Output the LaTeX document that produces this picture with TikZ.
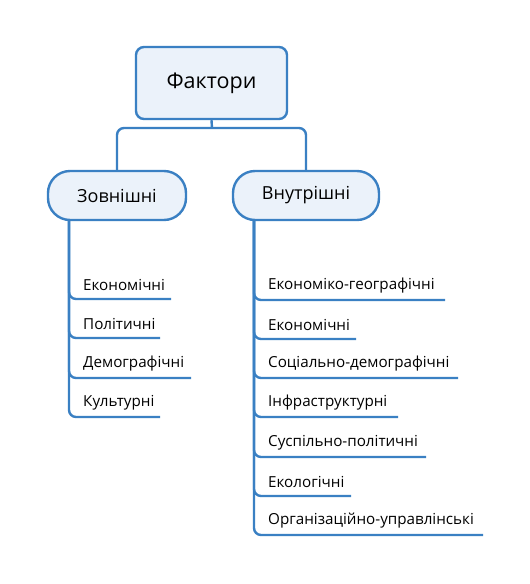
\documentclass[tikz,border=0pt]{standalone}
\usepackage{fontspec}
\setmainfont{Open Sans}
\definecolor{lineblue}{HTML}{3A80C3}
\definecolor{boxfill}{HTML}{EBF2FA}
\begin{document}
\begin{tikzpicture}[x=1pt,y=-1pt,
  conn/.style={draw=lineblue,line width=2.4pt,rounded corners=7pt},
  itemtext/.style={anchor=west,inner sep=0pt,font=\fontsize{15.2}{17}\selectfont},
  pill/.style={draw=lineblue,fill=boxfill,line width=2.4pt,rounded corners=22pt,minimum height=49pt,inner sep=0pt,font=\fontsize{18}{21}\selectfont},
]
\useasboundingbox (0,0) rectangle (530,584);
% main box
\node[draw=lineblue,fill=boxfill,line width=2.4pt,rounded corners=8pt,minimum width=151pt,minimum height=72pt,inner sep=0pt,font=\fontsize{21.5}{24}\selectfont] (top) at (211.5,83) {Фактори};
% second level
\node[pill,minimum width=138pt] (ext) at (117,195.5) {Зовнішні};
\node[pill,minimum width=146pt] (int) at (306,195.5) {Внутрішні};
\coordinate (j) at (212,128);
\draw[conn] (top.south) -- (j);
\draw[conn] (ext.north) |- (j) -| (int.north);
% left items
\foreach \t/\y/\e [count=\i] in {Економічні/299/171,Політичні/338/160,Демографічні/378/191,Культурні/417/160}{
  \node[itemtext] (l\i) at (83,\y-14.5) {\t};
  \coordinate (le\i) at (\e,\y);
  \draw[conn] (ext.south -| 69,0) |- (le\i);
}
% right items
\foreach \t/\y/\e [count=\i] in {Економіко-географічні/300/445,Економічні/339/356,Соціально-демографічні/378/458,Інфраструктурні/417/398,Суспільно-політичні/457/426,Екологічні/496/351,Організаційно-управлінські/535/483}{
  \node[itemtext] (r\i) at (268,\y-14.5) {\t};
  \coordinate (re\i) at (\e,\y);
  \draw[conn] (int.south -| 254,0) |- (re\i);
}
\end{tikzpicture}
\end{document}
